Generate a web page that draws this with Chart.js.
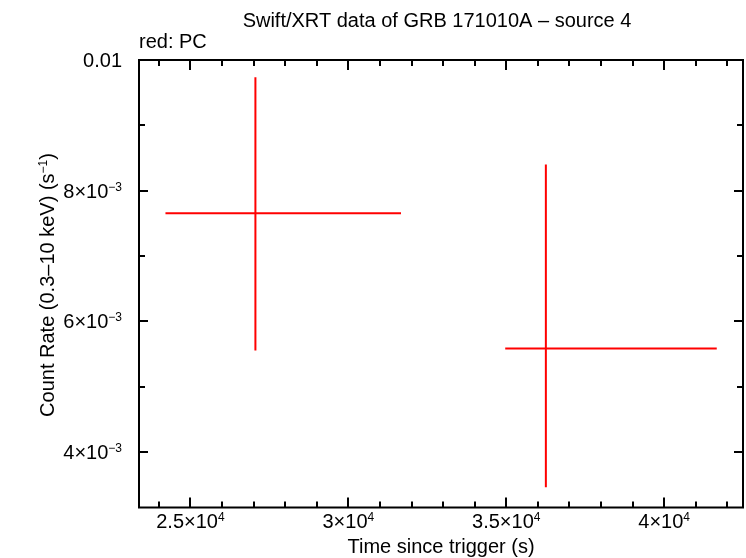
<!DOCTYPE html>
<html>
<head>
<meta charset="utf-8">
<script src="https://cdn.jsdelivr.net/npm/chart.js@4/dist/chart.umd.min.js"></script>
<style>
  html, body { margin: 0; padding: 0; background: #ffffff; }
  #wrap { width: 746px; height: 558px; }
</style>
</head>
<body>
<div id="wrap"><canvas id="c" width="746" height="558"></canvas></div>
<script>
// ---- data ----
const pointTime      = [27057, 36254];
const pointTimeLow   = [24209, 34967];
const pointTimeHigh  = [31667, 41665];
const pointRate      = [0.007654, 0.005584];
const pointRateLow   = [0.005553, 0.003459];
const pointRateHigh  = [0.009734, 0.008400];

// ---- axes ----
const xRange = [23371, 42496];
const yRange = [0.003149, 0.0100];
const xMajorTicks = [25000, 30000, 35000, 40000];
const xMinorTicks = [24000, 26000, 27000, 28000, 29000, 31000, 32000, 33000, 34000, 36000, 37000, 38000, 39000, 41000, 42000];
const xTickBase = ["2.5\u00d710", "3\u00d710", "3.5\u00d710", "4\u00d710"];
const xTickExp  = ["4", "4", "4", "4"];
const yMajorTicks = [0.004, 0.006, 0.008, 0.010];
const yMinorTicks = [0.005, 0.007, 0.009];
const yTickBase = ["4\u00d710", "6\u00d710", "8\u00d710", "0.01"];
const yTickExp  = ["\u22123", "\u22123", "\u22123", ""];

const titleText = "Swift/XRT data of GRB 171010A \u2013 source 4";
const subtitleText = "red: PC";
const xTitle = "Time since trigger (s)";
const yTitleBase = "Count Rate (0.3\u201310 keV) (s";
const yTitleExp = "\u22121";
const yTitleEnd = ")";

const RED = "#ff0000";
const FONT = "Liberation Sans, Arial, Helvetica, sans-serif";

// build error-bar segments as line datasets
const datasets = [];
for (let i = 0; i < pointTime.length; i++) {
  datasets.push({
    data: [{x: pointTimeLow[i], y: pointRate[i]}, {x: pointTimeHigh[i], y: pointRate[i]}],
    showLine: true, borderColor: RED, borderWidth: 2, pointRadius: 0, fill: false
  });
  datasets.push({
    data: [{x: pointTime[i], y: pointRateLow[i]}, {x: pointTime[i], y: pointRateHigh[i]}],
    showLine: true, borderColor: RED, borderWidth: 2, pointRadius: 0, fill: false
  });
}

function richWidth(ctx, parts) {
  let w = 0;
  for (const p of parts) {
    ctx.font = (p.sup ? 12 : 20) + "px " + FONT;
    w += ctx.measureText(p.t).width;
  }
  return w;
}
function drawRich(ctx, parts, x, y, align) {
  // y = baseline of main text
  const w = richWidth(ctx, parts);
  let cx = align === "right" ? x - w : (align === "center" ? x - w / 2 : x);
  ctx.textAlign = "left";
  ctx.textBaseline = "alphabetic";
  for (const p of parts) {
    ctx.font = (p.sup ? 12 : 20) + "px " + FONT;
    ctx.fillText(p.t, cx, p.sup ? y - 7 : y);
    cx += ctx.measureText(p.t).width;
  }
}

const framePlugin = {
  id: "frame",
  afterDraw(chart) {
    const ctx = chart.ctx;
    const a = chart.chartArea;
    const xs = chart.scales.x, ys = chart.scales.y;
    ctx.save();
    ctx.strokeStyle = "#000";
    ctx.fillStyle = "#000";
    ctx.lineWidth = 2;
    ctx.strokeRect(a.left, a.top, a.right - a.left, a.bottom - a.top);
    ctx.beginPath();
    const xt = (v, len) => {
      const px = Math.round(xs.getPixelForValue(v));
      ctx.moveTo(px, a.bottom); ctx.lineTo(px, a.bottom - len);
      ctx.moveTo(px, a.top); ctx.lineTo(px, a.top + len);
    };
    const yt = (v, len) => {
      const py = Math.round(ys.getPixelForValue(v));
      ctx.moveTo(a.left, py); ctx.lineTo(a.left + len, py);
      ctx.moveTo(a.right, py); ctx.lineTo(a.right - len, py);
    };
    xMajorTicks.forEach(v => xt(v, 10));
    xMinorTicks.forEach(v => xt(v, 6));
    yMajorTicks.forEach(v => yt(v, 9));
    yMinorTicks.forEach(v => yt(v, 6));
    ctx.stroke();

    // tick labels
    xMajorTicks.forEach((v, i) => {
      const px = xs.getPixelForValue(v);
      drawRich(ctx, [{t: xTickBase[i]}, {t: xTickExp[i], sup: true}], px, 528, "center");
    });
    yMajorTicks.forEach((v, i) => {
      const py = ys.getPixelForValue(v);
      const parts = [{t: yTickBase[i]}];
      if (yTickExp[i]) parts.push({t: yTickExp[i], sup: true});
      drawRich(ctx, parts, 122, py + 7, "right");
    });

    // titles
    drawRich(ctx, [{t: titleText}], (a.left + a.right) / 2 - 4, 27, "center");
    drawRich(ctx, [{t: subtitleText}], a.left, 48, "left");
    drawRich(ctx, [{t: xTitle}], (a.left + a.right) / 2, 553, "center");
    ctx.save();
    ctx.translate(54, 285);
    ctx.rotate(-Math.PI / 2);
    drawRich(ctx, [{t: yTitleBase}, {t: yTitleExp, sup: true}, {t: yTitleEnd}], 0, 0, "center");
    ctx.restore();
    ctx.restore();
  }
};

new Chart(document.getElementById("c"), {
  type: "scatter",
  data: { datasets },
  options: {
    responsive: false,
    animation: false,
    devicePixelRatio: 1,
    layout: { padding: { top: 60, right: 3, left: 0, bottom: 0 } },
    plugins: { legend: { display: false }, tooltip: { enabled: false }, title: { display: false } },
    scales: {
      x: {
        type: "linear", min: xRange[0], max: xRange[1],
        grid: { display: false }, border: { display: false },
        ticks: { display: false },
        afterFit: s => { s.height = 50.5; }
      },
      y: {
        type: "linear", min: yRange[0], max: yRange[1],
        grid: { display: false }, border: { display: false },
        ticks: { display: false },
        afterFit: s => { s.width = 139; }
      }
    }
  },
  plugins: [framePlugin]
});
</script>
</body>
</html>
